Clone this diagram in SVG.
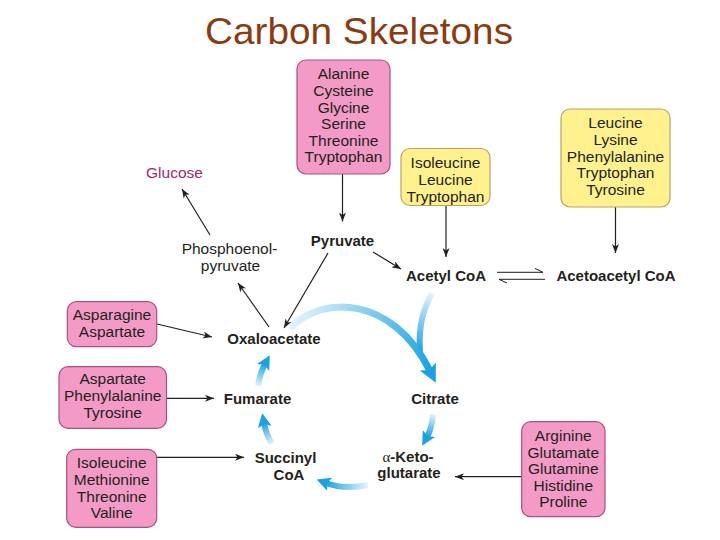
<svg xmlns="http://www.w3.org/2000/svg" width="720" height="540" viewBox="0 0 720 540">
<style>
.t{font-family:"Liberation Sans",Arial,sans-serif;font-size:15.5px;fill:#231F20;text-anchor:middle}
.b{font-family:"Liberation Sans",Arial,sans-serif;font-size:15px;font-weight:bold;fill:#231F20;text-anchor:middle}
.pink{fill:#F39BC6;stroke:#A8527E;stroke-width:1.2}
.yel{fill:#FFF28E;stroke:#B8A26A;stroke-width:1.2}
.ln{stroke:#231F20;stroke-width:1.2;fill:none;marker-end:url(#ah)}
.hp{stroke:#231F20;stroke-width:1;fill:none}
.bl{fill:none;stroke-linecap:butt}
</style>
<defs>
<marker id="ah" markerUnits="userSpaceOnUse" markerWidth="9" markerHeight="7" refX="9" refY="3.5" orient="auto"><path d="M0,0 L9,3.5 L0,7 L2.5,3.5 z" fill="#231F20"/></marker>
<marker id="bh" markerUnits="userSpaceOnUse" markerWidth="14" markerHeight="14" refX="4" refY="7" orient="auto"><path d="M0,0 L14,7 L0,14 L3,7 z" fill="#1BA1E2"/></marker>
<marker id="bbh" markerUnits="userSpaceOnUse" markerWidth="18" markerHeight="18" refX="5" refY="9" orient="auto"><path d="M0,0 L18,9 L0,18 L4,9 z" fill="#1BA1E2"/></marker>
<linearGradient id="g1" gradientUnits="userSpaceOnUse" x1="290" y1="320" x2="430" y2="371"><stop offset="0" stop-color="#E6F5FC"/><stop offset="1" stop-color="#1BA1E2"/></linearGradient>
<linearGradient id="g2" gradientUnits="userSpaceOnUse" x1="432" y1="293" x2="420" y2="352"><stop offset="0" stop-color="#E6F5FC"/><stop offset="1" stop-color="#1BA1E2"/></linearGradient>
<linearGradient id="g3" gradientUnits="userSpaceOnUse" x1="433" y1="414" x2="427" y2="437"><stop offset="0" stop-color="#E6F5FC"/><stop offset="1" stop-color="#1BA1E2"/></linearGradient>
<linearGradient id="g4" gradientUnits="userSpaceOnUse" x1="368" y1="485" x2="326" y2="483"><stop offset="0" stop-color="#E6F5FC"/><stop offset="1" stop-color="#1BA1E2"/></linearGradient>
<linearGradient id="g5" gradientUnits="userSpaceOnUse" x1="272" y1="444" x2="264" y2="423"><stop offset="0" stop-color="#E6F5FC"/><stop offset="1" stop-color="#1BA1E2"/></linearGradient>
<linearGradient id="g6" gradientUnits="userSpaceOnUse" x1="258" y1="386" x2="265" y2="364"><stop offset="0" stop-color="#E6F5FC"/><stop offset="1" stop-color="#1BA1E2"/></linearGradient>
</defs>
<rect width="720" height="540" fill="#FFFFFF"/>
<text x="359" y="44" font-family="'Liberation Sans',Arial,sans-serif" font-size="36" fill="#8A3B12" text-anchor="middle" textLength="308" lengthAdjust="spacingAndGlyphs">Carbon Skeletons</text>

<g id="connectors">
<path class="ln" d="M342.5,174 L342.5,221.5"/>
<path class="ln" d="M446,206 L446,257"/>
<path class="ln" d="M615.5,207 L615.5,253"/>
<path class="ln" d="M373,252 L401,269"/>
<path class="ln" d="M328,253 L284,328"/>
<path class="ln" d="M269,327 L238,283"/>
<path class="ln" d="M210,235 L182,189"/>
<path class="ln" d="M157,324 L212,337"/>
<path class="ln" d="M167,398.3 L214,398.3"/>
<path class="ln" d="M157,457.3 L244,457.3"/>
<path class="ln" d="M522,476.7 L455,476.7"/>
<path class="hp" d="M497,272.3 L543,272.3 L535,268.5"/>
<path class="hp" d="M545,279.3 L499,279.3 L507,283"/>
<path class="bl" d="M432,293 C424,308 418,325 420,352" stroke="url(#g2)" stroke-width="6"/>
<path class="bl" d="M290,328 C322,295 392,295 430,371" stroke="url(#g1)" stroke-width="7" marker-end="url(#bbh)"/>
<path class="bl" d="M433,414 Q432,428 427,437" stroke="url(#g3)" stroke-width="6" marker-end="url(#bh)"/>
<path class="bl" d="M368,485 Q345,490 326,483" stroke="url(#g4)" stroke-width="6" marker-end="url(#bh)"/>
<path class="bl" d="M272,444 Q266,434 264,423" stroke="url(#g5)" stroke-width="6" marker-end="url(#bh)"/>
<path class="bl" d="M258,386 Q260,373 265,364" stroke="url(#g6)" stroke-width="6" marker-end="url(#bh)"/>
</g>

<g id="box-top">
<rect class="pink" x="297" y="60" width="93" height="114" rx="9"/>
<text class="t" x="343.5" y="79.3">Alanine</text>
<text class="t" x="343.5" y="95.9">Cysteine</text>
<text class="t" x="343.5" y="112.5">Glycine</text>
<text class="t" x="343.5" y="129.1">Serine</text>
<text class="t" x="343.5" y="145.7">Threonine</text>
<text class="t" x="343.5" y="162.3">Tryptophan</text>
</g>
<g id="box-ile">
<rect class="yel" x="401" y="148.5" width="89" height="57" rx="9"/>
<text class="t" x="445.5" y="168.3">Isoleucine</text>
<text class="t" x="445.5" y="184.9">Leucine</text>
<text class="t" x="445.5" y="201.5">Tryptophan</text>
</g>
<g id="box-leu">
<rect class="yel" x="561" y="109" width="109" height="98" rx="9"/>
<text class="t" x="615.5" y="128.3">Leucine</text>
<text class="t" x="615.5" y="144.9">Lysine</text>
<text class="t" x="615.5" y="161.5">Phenylalanine</text>
<text class="t" x="615.5" y="178.1">Tryptophan</text>
<text class="t" x="615.5" y="194.7">Tyrosine</text>
</g>
<g id="box-asn">
<rect class="pink" x="67.3" y="301.7" width="89.4" height="45" rx="9"/>
<text class="t" x="112" y="320">Asparagine</text>
<text class="t" x="112" y="336.6">Aspartate</text>
</g>
<g id="box-asp">
<rect class="pink" x="59" y="366.7" width="107.5" height="61.6" rx="9"/>
<text class="t" x="112.7" y="384.3">Aspartate</text>
<text class="t" x="112.7" y="400.9">Phenylalanine</text>
<text class="t" x="112.7" y="417.5">Tyrosine</text>
</g>
<g id="box-ile2">
<rect class="pink" x="66.7" y="449.3" width="90" height="78" rx="9"/>
<text class="t" x="111.7" y="468.3">Isoleucine</text>
<text class="t" x="111.7" y="484.9">Methionine</text>
<text class="t" x="111.7" y="501.5">Threonine</text>
<text class="t" x="111.7" y="518.1">Valine</text>
</g>
<g id="box-arg">
<rect class="pink" x="521.7" y="421.7" width="83.3" height="95" rx="9"/>
<text class="t" x="563.3" y="441">Arginine</text>
<text class="t" x="563.3" y="457.6">Glutamate</text>
<text class="t" x="563.3" y="474.2">Glutamine</text>
<text class="t" x="563.3" y="490.8">Histidine</text>
<text class="t" x="563.3" y="507.4">Proline</text>
</g>

<g id="glucose"><text class="t" x="174.5" y="178" style="fill:#9E2A6C">Glucose</text></g>
<g id="pep"><text class="t" x="229.5" y="254.3">Phosphoenol-</text><text class="t" x="230.5" y="270.5">pyruvate</text></g>
<g id="pyruvate"><text class="b" x="342.5" y="246">Pyruvate</text></g>
<g id="acetylcoa"><text class="b" x="446" y="280.7">Acetyl CoA</text></g>
<g id="acetoacetylcoa"><text class="b" x="616" y="280.7">Acetoacetyl CoA</text></g>
<g id="oxaloacetate"><text class="b" x="274" y="344.3">Oxaloacetate</text></g>
<g id="fumarate"><text class="b" x="257.5" y="404">Fumarate</text></g>
<g id="citrate"><text class="b" x="435" y="404">Citrate</text></g>
<g id="succinylcoa"><text class="b" x="285.5" y="463.3">Succinyl</text><text class="b" x="289" y="480">CoA</text></g>
<g id="akg"><text class="b" x="408" y="461.7"><tspan font-weight="normal" font-family="'Liberation Serif',serif">α</tspan>-Keto-</text><text class="b" x="409" y="478.3">glutarate</text></g>
</svg>
